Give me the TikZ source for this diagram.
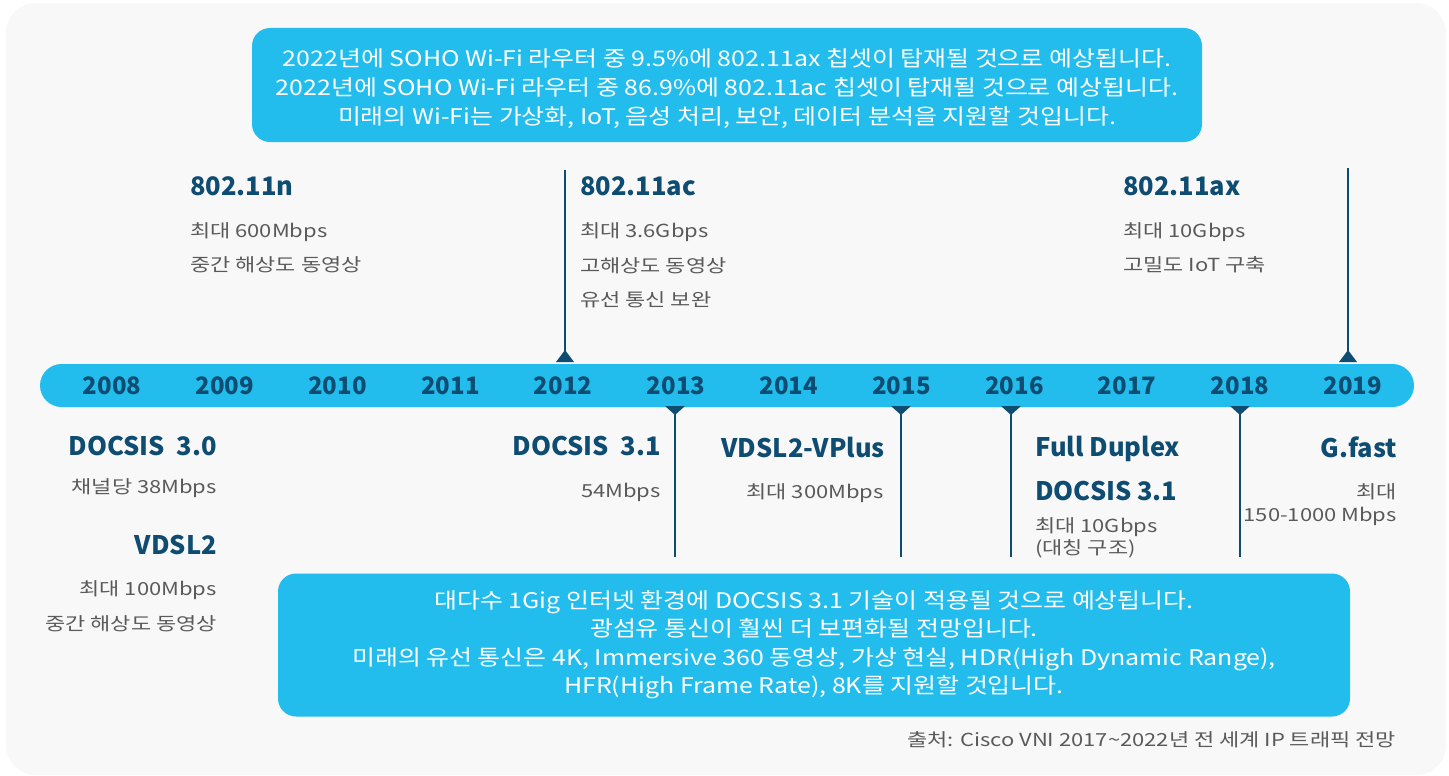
\documentclass[tikz,border=0pt]{standalone}
\usepackage{fontspec}
\setmainfont{Noto Sans CJK KR}
\newfontfamily\bodyf[FakeStretch=1.22]{Noto Sans CJK KR}
\newfontfamily\boxf[FakeStretch=1.16]{Noto Sans CJK KR}
\definecolor{bg}{HTML}{F8F8F8}
\definecolor{cblue}{HTML}{22BDEC}
\definecolor{dblue}{HTML}{0F4C72}
\definecolor{tgray}{HTML}{5A5A5A}
\begin{document}
\begin{tikzpicture}[x=1pt,y=-1pt,
  year/.style={font=\fontsize{24}{28}\selectfont\bfseries, text=dblue, inner sep=0pt, text height=17.4pt, text depth=0pt},
  ttl/.style={font=\fontsize{25.5}{30}\selectfont\bfseries, text=dblue, inner sep=0pt, text height=18.6pt, text depth=0pt},
  body/.style={font=\bodyf\fontsize{18}{22}\selectfont, text=tgray, inner sep=0pt, text height=13.6pt, text depth=0pt},
  bluebox/.style={fill=cblue, rounded corners=18pt, text=white, align=center, inner sep=0pt},
  marker/.style={draw=dblue, line width=1.6pt},
  tri/.style={fill=dblue}]
\useasboundingbox (0,0) rectangle (1449,776);
\fill[white] (0,0) rectangle (1449,776);
\fill[bg, rounded corners=30pt] (6,3) rectangle (1446,775);

% top box
\node[bluebox, minimum width=950pt, minimum height=114pt, font=\boxf\fontsize{21.5}{29}\selectfont] (topbox) at (727,85) {};
\node[text=white, align=center, inner sep=0pt, font=\boxf\fontsize{21.5}{29}\selectfont] (toptext) at (727,89)
  {2022년에 SOHO Wi-Fi 라우터 중 9.5\%에 802.11ax 칩셋이 탑재될 것으로 예상됩니다.\\
   2022년에 SOHO Wi-Fi 라우터 중 86.9\%에 802.11ac 칩셋이 탑재될 것으로 예상됩니다.\\
   미래의 Wi-Fi는 가상화, IoT, 음성 처리, 보안, 데이터 분석을 지원할 것입니다.};

% bottom box
\node[bluebox, minimum width=1072pt, minimum height=143pt, font=\boxf\fontsize{21.5}{28.5}\selectfont] (botbox) at (814,645)
  {대다수 1Gig 인터넷 환경에 DOCSIS 3.1 기술이 적용될 것으로 예상됩니다.\\
   광섬유 통신이 훨씬 더 보편화될 전망입니다.\\
   미래의 유선 통신은 4K, Immersive 360 동영상, 가상 현실, HDR(High Dynamic Range),\\
   HFR(High Frame Rate), 8K를 지원할 것입니다.};

% timeline bar
\fill[cblue, rounded corners=21.5pt] (40,364) rectangle (1414,407);
\foreach \yr [count=\i from 0] in {2008,2009,2010,2011,2012,2013,2014,2015,2016,2017,2018,2019}
  \node[year] (y\yr) at (112+112.8*\i,386) {\yr};

% upward markers
\foreach \mx/\mt/\nm in {565/170/a,1348/168/b} {
  \coordinate (up\nm top) at (\mx,\mt);
  \coordinate (up\nm bot) at (\mx,352);
  \draw[marker] (up\nm top) -- (up\nm bot);
  \fill[tri] (\mx-9,362) -- (\mx+9,362) -- (\mx,350) -- cycle;
}
% downward markers
\foreach \mx/\nm in {675/a,901/b,1011/c,1240/d} {
  \coordinate (dn\nm top) at (\mx,407);
  \coordinate (dn\nm bot) at (\mx,557);
  \draw[marker] (dn\nm top) -- (dn\nm bot);
  \fill[tri] (\mx-10,406) -- (\mx+10,406) -- (\mx,415) -- cycle;
}

% Wi-Fi labels
\node[ttl, anchor=west] (n) at (190,186) {802.11n};
\node[body, anchor=west] (n1) at (190,231) {최대 600Mbps};
\node[body, anchor=west] (n2) at (190,265) {중간 해상도 동영상};

\node[ttl, anchor=west] (ac) at (580,186) {802.11ac};
\node[body, anchor=west] (ac1) at (580,231) {최대 3.6Gbps};
\node[body, anchor=west] (ac2) at (580,266) {고해상도 동영상};
\node[body, anchor=west] (ac3) at (580,300) {유선 통신 보완};

\node[ttl, anchor=west] (ax) at (1123,186) {802.11ax};
\node[body, anchor=west] (ax1) at (1123,231) {최대 10Gbps};
\node[body, anchor=west] (ax2) at (1123,265) {고밀도 IoT 구축};

% wired labels
\node[ttl, anchor=east] (d30) at (217,446) {DOCSIS\ \ 3.0};
\node[body, anchor=east] (d301) at (217,487) {채널당 38Mbps};
\node[ttl, anchor=east] (vd) at (217,545) {VDSL2};
\node[body, anchor=east] (vd1) at (217,589) {최대 100Mbps};
\node[body, anchor=east] (vd2) at (217,624) {중간 해상도 동영상};

\node[ttl, anchor=east] (d31) at (661,446) {DOCSIS\ \ 3.1};
\node[body, anchor=east] (d311) at (661,491) {54Mbps};

\node[ttl, anchor=east] (vp) at (885,448) {VDSL2-VPlus};
\node[body, anchor=east] (vp1) at (884,492) {최대 300Mbps};

\node[ttl, anchor=west] (fd) at (1035,447) {Full Duplex};
\node[ttl, anchor=west] (fd2) at (1035,491) {DOCSIS 3.1};
\node[body, anchor=west] (fd3) at (1035,526) {최대 10Gbps};
\node[body, anchor=west] (fd4) at (1035,548) {(대칭 구조)};

\node[ttl, anchor=east] (gf) at (1397,448) {G.fast};
\node[body, anchor=east] (gf1) at (1397,492) {최대};
\node[body, anchor=east] (gf2) at (1397,515) {150-1000 Mbps};

\node[body, anchor=east] (src) at (1396,740) {출처: Cisco VNI 2017\textasciitilde 2022년 전 세계 IP 트래픽 전망};
\end{tikzpicture}
\end{document}
